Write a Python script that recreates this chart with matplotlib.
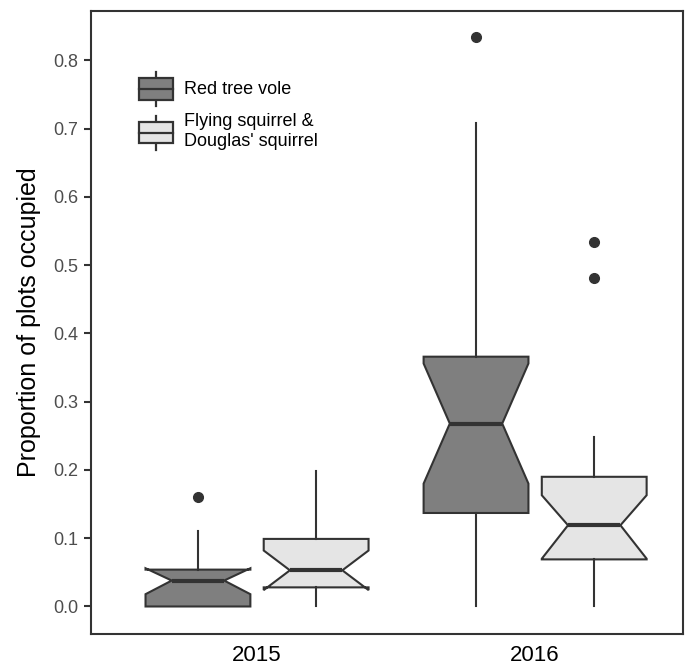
import matplotlib
matplotlib.use("Agg")
import matplotlib.pyplot as plt
from matplotlib.patches import Patch, Rectangle
from matplotlib.lines import Line2D
from matplotlib.legend_handler import HandlerBase

plt.rcParams['font.family'] = ['Liberation Sans', 'DejaVu Sans']

# ---- data ----------------------------------------------------------------
years = ["2015", "2016"]
species = ["Red tree vole", "Flying squirrel &\nDouglas' squirrel"]

# box statistics per species, one entry per year
vole_whislo = [0.0, 0.0]
vole_q1 = [0.0, 0.137]
vole_med = [0.038, 0.268]
vole_q3 = [0.054, 0.366]
vole_whishi = [0.111, 0.708]
vole_cilo = [0.018, 0.180]
vole_cihi = [0.056, 0.356]
vole_fliers = [[0.160], [0.834]]

squirrel_whislo = [0.0, 0.0]
squirrel_q1 = [0.028, 0.069]
squirrel_med = [0.053, 0.119]
squirrel_q3 = [0.099, 0.190]
squirrel_whishi = [0.199, 0.248]
squirrel_cilo = [0.024, 0.070]
squirrel_cihi = [0.082, 0.163]
squirrel_fliers = [[], [0.481, 0.534]]

fills = ["#7f7f7f", "#e5e5e5"]
edge = "#333333"


def make_stats(whislo, q1, med, q3, whishi, cilo, cihi, fliers):
    return [dict(whislo=a, q1=b, med=c, q3=d, whishi=e, cilo=f, cihi=g, fliers=h)
            for a, b, c, d, e, f, g, h in zip(whislo, q1, med, q3, whishi, cilo, cihi, fliers)]


vole_stats = make_stats(vole_whislo, vole_q1, vole_med, vole_q3, vole_whishi,
                        vole_cilo, vole_cihi, vole_fliers)
squirrel_stats = make_stats(squirrel_whislo, squirrel_q1, squirrel_med, squirrel_q3,
                            squirrel_whishi, squirrel_cilo, squirrel_cihi, squirrel_fliers)

# ---- figure --------------------------------------------------------------
fig = plt.figure(figsize=(6.97, 6.67), dpi=100)
ax = fig.add_axes([0.1306, 0.0495, 0.8494, 0.934])

centers = [1, 2]
dodge = 0.2125
box_w = 0.377
lw = 1.5

for stats, shift, fc in [(vole_stats, -dodge, fills[0]), (squirrel_stats, dodge, fills[1])]:
    ax.bxp(stats, positions=[c + shift for c in centers], widths=box_w,
           shownotches=True, showcaps=False, patch_artist=True,
           boxprops=dict(facecolor=fc, edgecolor=edge, linewidth=lw),
           medianprops=dict(color=edge, linewidth=3.0, solid_capstyle='butt'),
           whiskerprops=dict(color=edge, linewidth=lw),
           flierprops=dict(marker='o', markersize=7, markerfacecolor=edge,
                           markeredgecolor=edge))

ax.set_xlim(0.403, 2.532)
ax.set_ylim(-0.0403, 0.8725)
ax.set_xticks(centers)
ax.set_xticklabels(years)
ax.set_yticks([0.0, 0.1, 0.2, 0.3, 0.4, 0.5, 0.6, 0.7, 0.8])
ax.set_yticklabels(["0.0", "0.1", "0.2", "0.3", "0.4", "0.5", "0.6", "0.7", "0.8"])
ax.tick_params(axis='y', length=5, width=lw, color=edge, labelsize=13,
               labelcolor="#4d4d4d", pad=4)
ax.tick_params(axis='x', length=0, labelsize=16, labelcolor="black", pad=8)
for s in ax.spines.values():
    s.set_color(edge)
    s.set_linewidth(lw)
ax.set_ylabel("Proportion of plots occupied", fontsize=18, labelpad=9)


# ---- legend with mini box glyphs ------------------------------------------
class BoxKey(HandlerBase):
    def create_artists(self, legend, orig_handle, xdescent, ydescent,
                       width, height, fontsize, trans):
        fc = orig_handle.get_facecolor()
        cy = height / 2 - ydescent
        bh = height * 0.64
        x0 = -xdescent
        rect = Rectangle((x0, cy - bh / 2), width, bh, facecolor=fc,
                         edgecolor=edge, linewidth=1.6, transform=trans)
        med = Line2D([x0, x0 + width], [cy, cy], color=edge, linewidth=1.6,
                     transform=trans)
        wu = Line2D([x0 + width / 2] * 2, [cy + bh / 2, cy + height / 2],
                    color=edge, linewidth=1.6, transform=trans)
        wl = Line2D([x0 + width / 2] * 2, [cy - bh / 2, cy - height / 2],
                    color=edge, linewidth=1.6, transform=trans)
        return [wu, wl, rect, med]


handles = [Patch(facecolor=fills[0]), Patch(facecolor=fills[1])]
leg = ax.legend(handles, species, handler_map={Patch: BoxKey()},
                loc='upper left', bbox_to_anchor=(0.081, 0.902), frameon=False,
                fontsize=13, handlelength=1.9, handleheight=2.5, handletextpad=0.6,
                labelspacing=0.4, borderpad=0, borderaxespad=0)
for t in leg.get_texts():
    t.set_linespacing(1.25)

fig.savefig("out.png", dpi=100)
